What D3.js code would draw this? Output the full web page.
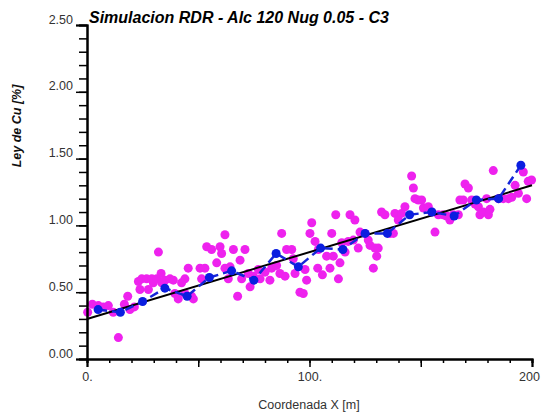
<!DOCTYPE html>
<html>
<head>
<meta charset="utf-8">
<script src="https://cdn.jsdelivr.net/npm/d3@7"></script>
<style>
body { margin: 0; background: #fff; }
svg text { font-family: "Liberation Sans", Arial, Helvetica, sans-serif; }
</style>
</head>
<body>
<div id="chart"></div>
<script>
// simulated grades (magenta)
var simX = [0.3, 2.4, 5.1, 7.3, 9.6, 11.8, 14.1, 16.8, 18.3, 19.3, 21.3,
    23.1, 24.6, 23.8, 26.8, 29.1, 27.6, 29.8, 31.3, 32.1, 33.3, 35.1, 33.6, 37.3, 38.8, 39.5, 41.0, 42.5, 44.0, 45.5, 44.0, 47.0, 47.8,
    50.8, 53.0, 51.5, 53.8, 56.0, 58.3, 59.8, 60.5, 62.0, 62.0, 64.3, 65.8, 63.5, 67.7, 68.8, 69.5, 71.0, 72.5, 73.3, 74.8,
    77.8, 77.0, 80.0, 82.2, 83.0, 85.2, 87.5, 86.7, 89.0, 89.7, 92.0, 92.7, 93.5, 95.7, 97.2, 98.0, 98.7, 100.2, 101.0, 102.5, 103.7, 104.0,
    105.8, 107.7, 109.2, 110.0, 110.7, 111.8, 113.0, 113.7, 114.5, 116.0, 117.4, 118.2, 119.7, 120.4, 121.9, 122.7, 124.9, 126.4, 127.2, 128.7, 129.4, 130.2, 130.9, 132.4, 133.9,
    136.2, 137.7, 138.4, 139.9, 141.4, 142.9, 145.9, 146.7, 147.4, 148.9, 150.4, 151.2, 153.4, 154.9, 156.4, 157.9, 160.1, 161.6, 163.1, 164.6, 166.9,
    167.6, 169.1, 169.9, 171.4, 172.9, 174.4, 175.9, 176.6, 178.1, 179.6, 180.4, 181.1, 182.6, 184.9, 187.1, 189.4, 190.9, 192.4, 193.9, 196.1, 197.6, 198.3, 199.8];
var simY = [0.35, 0.41, 0.40, 0.39, 0.40, 0.35, 0.16, 0.41, 0.47, 0.37, 0.39,
    0.58, 0.60, 0.52, 0.60, 0.60, 0.52, 0.57, 0.60, 0.80, 0.64, 0.59, 0.57, 0.60, 0.59, 0.49, 0.45, 0.57, 0.60, 0.68, 0.49, 0.47, 0.45,
    0.68, 0.68, 0.60, 0.84, 0.82, 0.72, 0.84, 0.79, 0.93, 0.68, 0.69, 0.82, 0.60, 0.47, 0.74, 0.60, 0.82, 0.64, 0.54, 0.62,
    0.60, 0.67, 0.65, 0.59, 0.68, 0.70, 0.94, 0.64, 0.62, 0.82, 0.82, 0.75, 0.64, 0.50, 0.49, 0.67, 0.59, 0.94, 1.02, 0.88, 0.68, 0.82,
    0.63, 0.77, 0.68, 0.94, 0.77, 1.08, 0.60, 0.72, 0.87, 0.80, 0.88, 1.08, 0.89, 1.04, 0.83, 0.95, 0.94, 0.89, 0.85, 0.68, 0.83, 0.77, 0.83, 1.10, 1.08,
    0.94, 0.94, 1.09, 1.04, 1.09, 1.14, 1.37, 1.28, 1.20, 1.19, 1.19, 1.13, 1.14, 1.10, 0.95, 1.08, 1.08, 1.07, 1.04, 1.08, 1.08,
    1.19, 1.19, 1.31, 1.28, 1.19, 1.16, 1.14, 1.08, 1.10, 1.20, 1.08, 1.12, 1.41, 1.20, 1.20, 1.20, 1.21, 1.30, 1.24, 1.40, 1.20, 1.33, 1.34];

// averages every 10 m (blue)
var meanX = [5, 15, 25, 35, 45, 55, 65, 75, 85, 95, 105, 115, 125, 135, 145, 155, 165, 175, 185, 195];
var meanY = [0.37, 0.35, 0.43, 0.53, 0.47, 0.61, 0.66, 0.59, 0.79, 0.69, 0.83, 0.82, 0.94, 0.94, 1.08, 1.10, 1.07, 1.19, 1.20, 1.45];

// trend line
var trendX = [0, 200];
var trendY = [0.30, 1.30];

var yMajor = [0, 0.5, 1.0, 1.5, 2.0, 2.5];
var yLabels = ["0.00", "0.50", "1.00", "1.50", "2.00", "2.50"];
var xMajor = [0, 100, 200];
var xLabels = ["0.", "100.", "200"];

var width = 542, height = 416;

var svg = d3.select("#chart").append("svg")
    .attr("width", width)
    .attr("height", height);

var xScale = d3.scaleLinear().domain([0, 200]).range([87, 532]);
var yScale = d3.scaleLinear().domain([0, 2.5]).range([359, 25]);

// magenta points
svg.selectAll(".sim")
    .data(simX)
    .enter().append("circle")
    .attr("class", "sim")
    .attr("cx", function(d) { return xScale(d); })
    .attr("cy", function(d, i) { return yScale(simY[i]); })
    .attr("r", 4.5)
    .style("fill", "#ee22ee");

// black trend line
svg.append("line")
    .attr("x1", xScale(trendX[0])).attr("y1", yScale(trendY[0]))
    .attr("x2", xScale(trendX[1])).attr("y2", yScale(trendY[1]))
    .style("stroke", "#000")
    .style("stroke-width", 2);

// blue dashed line + dots
var line = d3.line()
    .x(function(d) { return xScale(d); })
    .y(function(d, i) { return yScale(meanY[i]); });

svg.append("path")
    .datum(meanX)
    .attr("d", line)
    .style("fill", "none")
    .style("stroke", "#1526d8")
    .style("stroke-width", 2.5)
    .style("stroke-dasharray", "9,5");

svg.selectAll(".mean")
    .data(meanX)
    .enter().append("circle")
    .attr("class", "mean")
    .attr("cx", function(d) { return xScale(d); })
    .attr("cy", function(d, i) { return yScale(meanY[i]); })
    .attr("r", 4.5)
    .style("fill", "#0a1ee0");

// y axis: minor + major ticks
var gYMinor = svg.append("g")
    .attr("transform", "translate(87,0)")
    .call(d3.axisLeft(yScale).tickValues(d3.range(0, 26).map(function(i) { return i / 10; }))
        .tickSize(8).tickFormat(""));

var gY = svg.append("g")
    .attr("transform", "translate(87,0)")
    .call(d3.axisLeft(yScale).tickValues(yMajor).tickSize(11)
        .tickFormat(function(d, i) { return yLabels[i]; }));

gY.selectAll("text")
    .attr("x", -14)
    .attr("dy", -2)
    .style("font-size", "12.5px")
    .style("fill", "#333");

// x axis: minor + major ticks
var gXMinor = svg.append("g")
    .attr("transform", "translate(0,359)")
    .call(d3.axisBottom(xScale).tickValues(d3.range(0, 210, 10)).tickSize(4).tickFormat(""));

var gX = svg.append("g")
    .attr("transform", "translate(0,359)")
    .call(d3.axisBottom(xScale).tickValues([0, 50, 100, 150, 200]).tickSize(8)
        .tickFormat(function(d) { var k = xMajor.indexOf(d); return k < 0 ? "" : xLabels[k]; }));

gX.selectAll("text")
    .attr("y", 22)
    .attr("dy", 0)
    .style("font-size", "12.5px")
    .style("fill", "#333");

// last label sits against the right edge
gX.selectAll(".tick text")
    .filter(function(d) { return d === 200; })
    .attr("x", -3);

svg.selectAll(".domain")
    .style("stroke", "#000")
    .style("stroke-width", 2);
svg.selectAll(".tick line")
    .style("stroke", "#000")
    .style("stroke-width", 1.5);

// title
svg.append("text")
    .attr("x", 89)
    .attr("y", 23)
    .style("font-size", "16px")
    .style("font-weight", "bold")
    .style("font-style", "italic")
    .style("fill", "#000")
    .text("Simulacion RDR - Alc 120 Nug 0.05 - C3");

// axis labels
svg.append("text")
    .attr("transform", "rotate(-90)")
    .attr("x", -126)
    .attr("y", 21)
    .style("text-anchor", "middle")
    .style("font-size", "12.5px")
    .style("font-weight", "bold")
    .style("font-style", "italic")
    .style("fill", "#111")
    .text("Ley de Cu [%]");

svg.append("text")
    .attr("x", 309)
    .attr("y", 409)
    .style("text-anchor", "middle")
    .style("font-size", "12.5px")
    .style("fill", "#333")
    .text("Coordenada X [m]");
</script>
</body>
</html>
